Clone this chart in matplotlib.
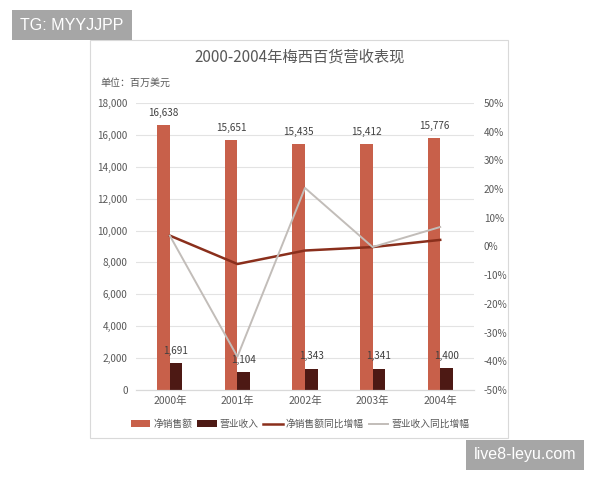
import matplotlib.pyplot as plt
from matplotlib.patches import Rectangle
import numpy as np

plt.rcParams['font.family'] = ['Noto Sans CJK SC', 'DejaVu Sans']

years = ['2000年', '2001年', '2002年', '2003年', '2004年']
net_sales = [16638, 15651, 15435, 15412, 15776]
op_income = [1691, 1104, 1343, 1341, 1400]
sales_growth = [3.8, -6.1, -1.4, -0.2, 2.3]
income_growth = [3.8, -38.4, 20.4, -0.2, 6.8]

c_sales = '#c8604a'
c_income = '#4d1914'
c_sales_line = '#8a2f1c'
c_income_line = '#c2bdb9'
c_text = '#595959'

fig = plt.figure(figsize=(6, 4.8), dpi=100)
fig.patch.set_facecolor('white')

# chart frame
frame = Rectangle((90/600, 1-438/480), 418/600, 398/480, transform=fig.transFigure,
                  facecolor='white', edgecolor='#d9d9d9', lw=0.8, zorder=-5)
fig.add_artist(frame)

ax = fig.add_axes([136/600, 1-390/480, 338/600, 287/480])
ax.set_facecolor('none')
ax2 = ax.twinx()

x = np.arange(len(years))
w = 0.185
b1 = ax.bar(x - w/2, net_sales, w, color=c_sales, zorder=2, label='净销售额')
b2 = ax.bar(x + w/2, op_income, w, color=c_income, zorder=2, label='营业收入')
for i in range(len(years)):
    ax.text(x[i] - w/2, net_sales[i] + 450, f'{net_sales[i]:,}', ha='center', va='bottom',
            fontsize=7.2, color='#404040')
    ax.text(x[i] + w/2, op_income[i] + 450, f'{op_income[i]:,}', ha='center', va='bottom',
            fontsize=7.2, color='#404040')

ax.set_ylim(0, 18000)
ax.set_yticks(np.arange(0, 18001, 2000))
ax.set_yticklabels([f'{v:,}' for v in range(0, 18001, 2000)])
ax.set_xlim(-0.5, 4.5)
ax.set_xticks(x)
ax.set_xticklabels(years)
ax.grid(axis='y', color='#e3e3e3', lw=0.8, zorder=0)
ax.set_axisbelow(True)

l1, = ax2.plot(x, sales_growth, color=c_sales_line, lw=1.8, zorder=3, label='净销售额同比增幅')
l2, = ax2.plot(x, income_growth, color=c_income_line, lw=1.4, zorder=3, label='营业收入同比增幅')
ax2.set_ylim(-50, 50)
ax2.set_yticks(np.arange(-50, 51, 10))
ax2.set_yticklabels([f'{v}%' for v in range(-50, 51, 10)])

for a in (ax, ax2):
    for s in ('top', 'left', 'right'):
        a.spines[s].set_visible(False)
    a.spines['bottom'].set_color('#d9d9d9')
    a.tick_params(axis='y', length=0, labelsize=7.2, labelcolor=c_text)
ax.tick_params(axis='y', pad=6)
ax2.tick_params(axis='y', pad=7)
ax.tick_params(axis='x', length=0, labelsize=7.5, labelcolor=c_text, pad=4)

fig.text(300/600, 1-57/480, '2000-2004年梅西百货营收表现', ha='center', va='center',
         fontsize=11, color=c_text)
fig.text(100/600, 1-83/480, '单位：百万美元', ha='left', va='center', fontsize=7.2, color=c_text)

fig.legend([b1, b2, l1, l2], ['净销售额', '营业收入', '净销售额同比增幅', '营业收入同比增幅'],
           loc='center', bbox_to_anchor=(300/600, 1-424/480), ncol=4, frameon=False,
           fontsize=7, labelcolor=c_text, handlelength=2.0, handletextpad=0.3,
           columnspacing=0.5, handleheight=0.6)

# watermarks
wm = dict(boxstyle='square,pad=0.5', facecolor='#a6a6a6', edgecolor='none')
fig.text(72/600, 1-25/480, 'TG: MYYJJPP', ha='center', va='center', fontsize=11.5,
         color='white', family='Liberation Sans', bbox=wm)
fig.text(525/600, 1-455/480, 'live8-leyu.com', ha='center', va='center', fontsize=11.5,
         color='white', family='Liberation Sans', bbox=wm)

fig.savefig('out.png', dpi=100)
